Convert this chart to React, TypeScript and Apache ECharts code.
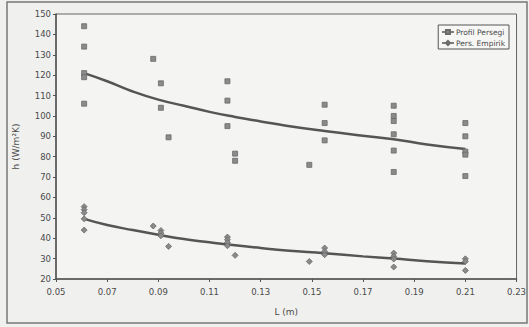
import React, { useEffect, useRef } from "react";
import * as echarts from "echarts";

// Measured points: Profil Persegi (squares)
const persegiL = [0.061, 0.061, 0.061, 0.061, 0.061, 0.088, 0.091, 0.091, 0.094, 0.117, 0.117, 0.117, 0.120, 0.120, 0.149, 0.155, 0.155, 0.155, 0.182, 0.182, 0.182, 0.182, 0.182, 0.182, 0.21, 0.21, 0.21, 0.21, 0.21];
const persegiH = [144, 134, 121, 119, 106, 128, 116, 104, 89.5, 117, 107.5, 95, 81.5, 78, 76, 105.5, 96.5, 88, 105, 100, 97.5, 91, 83, 72.5, 96.5, 90, 82.5, 81, 70.5];

// Pers. Empirik (diamonds)
const empirikL = [0.061, 0.061, 0.061, 0.061, 0.061, 0.088, 0.091, 0.091, 0.091, 0.094, 0.117, 0.117, 0.117, 0.117, 0.120, 0.149, 0.155, 0.155, 0.155, 0.182, 0.182, 0.182, 0.182, 0.21, 0.21, 0.21];
const empirikH = [55.5, 54, 52.5, 49.5, 44, 46, 43.8, 42.5, 41.2, 36, 40.6, 39.3, 37.9, 36.3, 31.6, 28.6, 35.2, 33.5, 31.9, 32.7, 31.1, 29.8, 25.9, 29.9, 28.6, 24.2];

// Trend curves
const trendL = [0.061, 0.07, 0.08, 0.09, 0.10, 0.11, 0.12, 0.13, 0.14, 0.155, 0.17, 0.182, 0.195, 0.21];
const trendPersegi = [121, 117, 112, 108, 105, 102, 99.5, 97.3, 95.2, 92.6, 90.3, 88.6, 86, 83.8];
const trendEmpirik = [49.5, 46.5, 44, 41.7, 39.6, 38, 36.5, 35.2, 34, 32.6, 31.1, 30, 28.7, 27.6];

const xTicks = { min: 0.05, max: 0.23, interval: 0.02 };
const yTicks = { min: 20, max: 150, interval: 10 };

const seriesNames = ["Profil Persegi", "Pers. Empirik"];

const FONT = "DejaVu Sans";
const INK = "#4a4a4a";

export default function App() {
  const ref = useRef<HTMLDivElement>(null);
  useEffect(() => {
    if (!ref.current) return;
    const chart = echarts.init(ref.current, null, { renderer: "svg" });
    const zip = (xs: number[], ys: number[]) => xs.map((x, i) => [x, ys[i]]);
    chart.setOption({
      animation: false,
      backgroundColor: "#f0f0ee",
      textStyle: { fontFamily: FONT },
      graphic: [
        {
          type: "rect",
          shape: { x: 7, y: 2, width: 520, height: 321 },
          style: { fill: "none", stroke: "#777", lineWidth: 1.5 },
          silent: true,
        },
      ],
      grid: { left: 56, right: 11, top: 14, bottom: 48, show: true, borderColor: "#666", borderWidth: 1, backgroundColor: "#f4f4f3" },
      legend: {
        data: seriesNames,
        orient: "vertical",
        right: 20,
        top: 25,
        backgroundColor: "#f6f6f5",
        borderColor: "#555",
        borderWidth: 1,
        padding: [3, 4, 2, 3],
        itemGap: 3,
        itemWidth: 12,
        itemHeight: 5,
        textStyle: { fontSize: 7.5, color: INK, fontFamily: FONT, padding: [0, 0, 0, -3] },
        lineStyle: { width: 1.5, color: "#555", opacity: 1 },
      },
      xAxis: {
        type: "value",
        min: xTicks.min,
        max: xTicks.max,
        interval: xTicks.interval,
        name: "L (m)",
        nameLocation: "middle",
        nameGap: 28,
        nameTextStyle: { fontSize: 9, color: INK },
        axisLine: { onZero: false, lineStyle: { color: "#555", width: 1.5 } },
        axisTick: { show: true, length: 3, lineStyle: { color: "#555" } },
        axisLabel: { fontSize: 8.5, color: INK, margin: 8, formatter: (v: number) => v.toFixed(2) },
        splitLine: { show: false },
      },
      yAxis: {
        type: "value",
        min: yTicks.min,
        max: yTicks.max,
        interval: yTicks.interval,
        name: "h (W/m²K)",
        nameLocation: "middle",
        nameGap: 36,
        nameTextStyle: { fontSize: 9, color: INK },
        axisLine: { onZero: false, lineStyle: { color: "#555", width: 1.5 } },
        axisTick: { show: true, length: 3, lineStyle: { color: "#555" } },
        axisLabel: { fontSize: 8.5, color: INK, margin: 5 },
        splitLine: { show: false },
      },
      series: [
        {
          name: seriesNames[0],
          type: "line",
          data: zip(persegiL, persegiH),
          symbol: "rect",
          symbolSize: 5,
          itemStyle: { color: "#8a8a8a", borderColor: "#6a6a6a", borderWidth: 0.8 },
          lineStyle: { opacity: 0, width: 0 },
          z: 3,
        },
        {
          name: seriesNames[1],
          type: "line",
          data: zip(empirikL, empirikH),
          symbol: "diamond",
          symbolSize: 6,
          itemStyle: { color: "#8a8a8a", borderColor: "#6a6a6a", borderWidth: 0.8 },
          lineStyle: { opacity: 0, width: 0 },
          z: 3,
        },
        {
          name: "trend1",
          type: "line",
          data: zip(trendL, trendPersegi),
          smooth: true,
          symbol: "none",
          lineStyle: { color: "#555", width: 2.5 },
          z: 2,
        },
        {
          name: "trend2",
          type: "line",
          data: zip(trendL, trendEmpirik),
          smooth: true,
          symbol: "none",
          lineStyle: { color: "#555", width: 2.5 },
          z: 2,
        },
      ],
    });
    return () => chart.dispose();
  }, []);
  return <div ref={ref} style={{ width: 529, height: 327, position: "absolute", left: 0, top: 0 }} />;
}
